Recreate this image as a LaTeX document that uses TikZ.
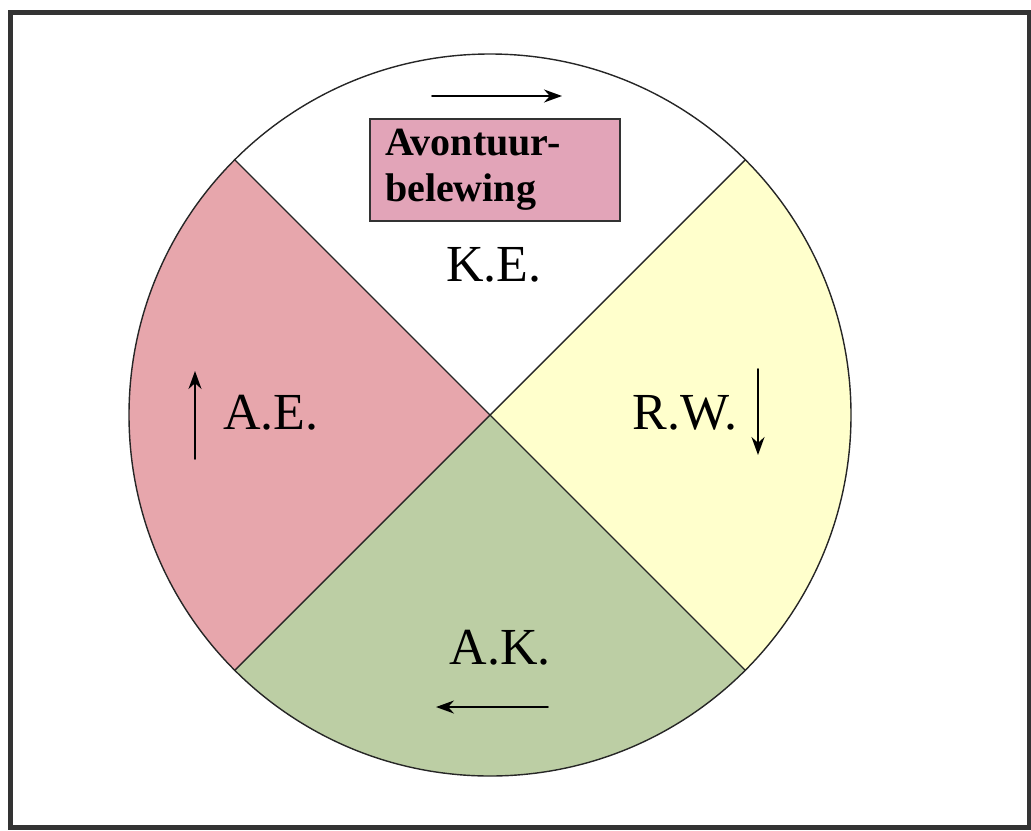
\documentclass[tikz,border=0pt]{standalone}
\usepackage{fontspec}
\setmainfont{Liberation Serif}
\usepackage{tikz}
\usetikzlibrary{arrows.meta}
\usepackage{xcolor}
\definecolor{aecol}{HTML}{E7A6AC}
\definecolor{rwcol}{HTML}{FFFFCC}
\definecolor{akcol}{HTML}{BCCEA4}
\definecolor{boxcol}{HTML}{E2A4B8}

\begin{document}
\begin{tikzpicture}[x=0.5pt,y=-0.5pt,>={Stealth[length=9pt,width=6.5pt]},line cap=round,
  lbl/.style={font=\fontsize{26}{28}\selectfont,inner sep=0pt}]
\useasboundingbox (0,0) rectangle (1031,830);
\draw[line width=2.5pt,black!80] (10,12) rectangle (1029,827);
\coordinate (c) at (490,415);
% the four quarters
\fill[aecol] (c) -- ++(135:361) arc[start angle=135,end angle=225,radius=361] -- cycle;
\fill[akcol] (c) -- ++(45:361) arc[start angle=45,end angle=135,radius=361] -- cycle;
\fill[rwcol] (c) -- ++(-45:361) arc[start angle=-45,end angle=45,radius=361] -- cycle;
\draw[line width=0.7pt,black!85] (c) circle[radius=361];
\draw[line width=0.7pt,black!85] (c) -- ++(45:361) (c) -- ++(135:361) (c) -- ++(225:361) (c) -- ++(315:361);
\node[draw=black!80,line width=0.7pt,fill=boxcol,minimum width=125pt,minimum height=51pt,
  align=left,text width=110pt,inner xsep=7.5pt,font=\fontsize{20}{23}\selectfont\bfseries]
  (avontuur) at (495,170) {Avontuur-\\belewing};
\node[lbl] (ke) at (494,265) {K.E.};
\node[lbl] (ae) at (271,413) {A.E.};
\node[lbl] (rw) at (685,413) {R.W.};
\node[lbl] (ak) at (500,648) {A.K.};
% direction arrows
\coordinate (ke1) at (432,96); \coordinate (ke2) at (562,96);
\coordinate (ae1) at (195,459); \coordinate (ae2) at (195,371);
\coordinate (rw1) at (758,369); \coordinate (rw2) at (758,455);
\coordinate (ak1) at (548,707); \coordinate (ak2) at (436,707);
\draw[->,line width=0.9pt] (ke1) -- (ke2);
\draw[->,line width=0.9pt] (ae1) -- (ae2);
\draw[->,line width=0.9pt] (rw1) -- (rw2);
\draw[->,line width=0.9pt] (ak1) -- (ak2);
\end{tikzpicture}
\end{document}
